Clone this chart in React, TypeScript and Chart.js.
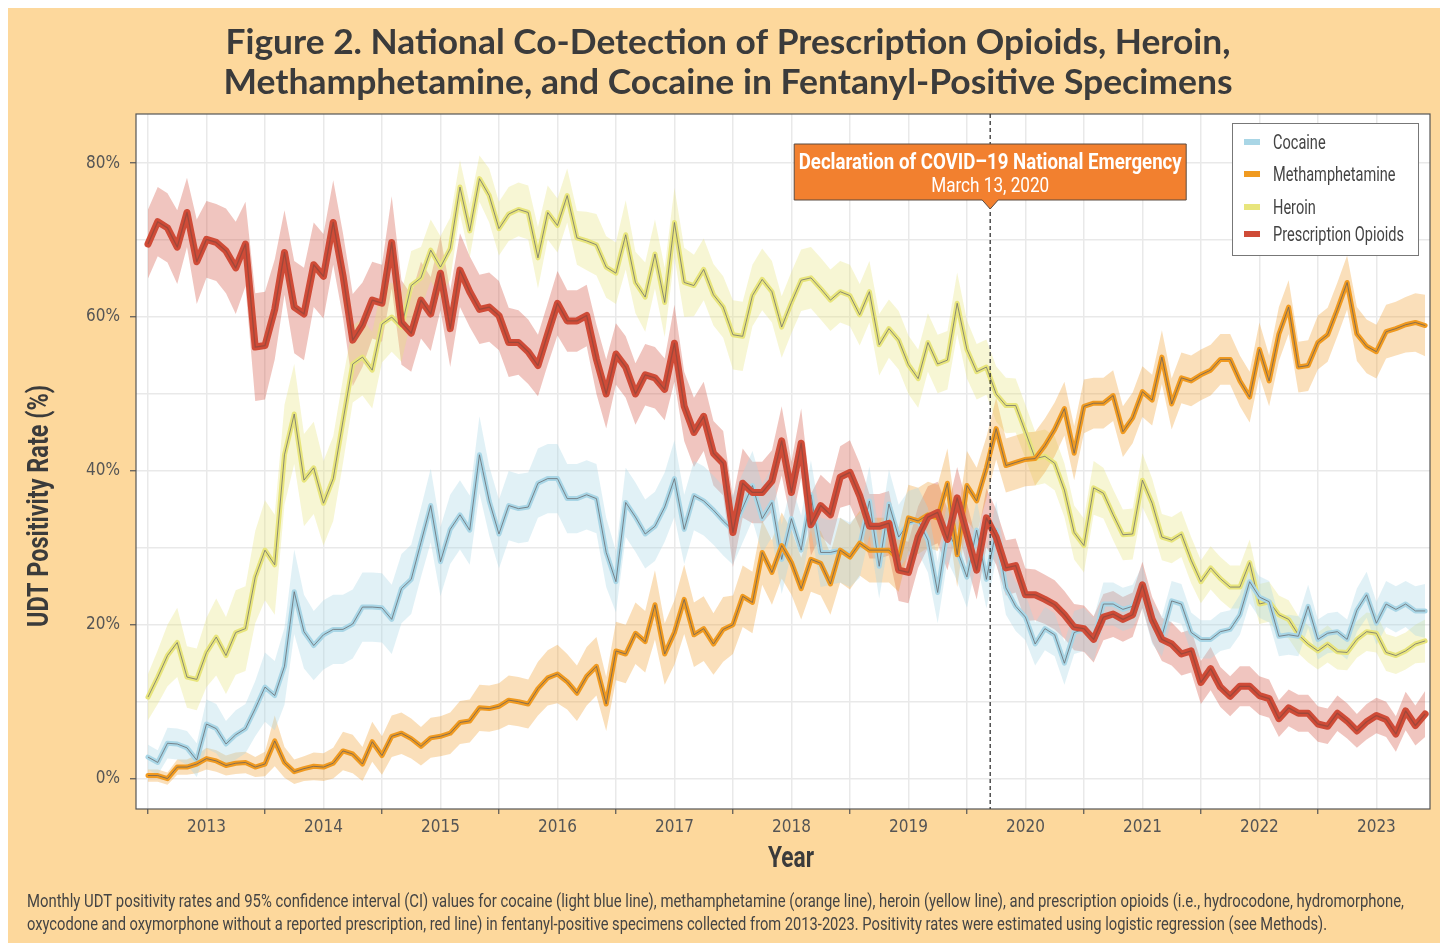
import React, { useEffect, useRef } from "react";
import { Chart, registerables } from "chart.js";

Chart.register(...registerables);

// ---------- data (monthly, Jan 2013 .. Dec 2023) ----------
const YEAR_LABELS = ["2013", "2014", "2015", "2016", "2017", "2018", "2019", "2020", "2021", "2022", "2023"];
const Y_TICK_VALUES = [0, 10, 20, 30, 40, 50, 60, 70, 80];
const EMERGENCY_MONTH_INDEX = 86; // March 2020 (0 = Jan 2013)
const EMERGENCY_DAY = 13;

const COCAINE = [
  2.8, 2.1, 4.6, 4.5, 4.0, 2.4, 7.1, 6.5, 4.5, 5.7, 6.5, 9.1,
  11.9, 10.8, 14.6, 24.3, 19.1, 17.3, 18.7, 19.4, 19.4, 20.1, 22.3, 22.3,
  22.2, 20.7, 24.7, 25.9, 30.7, 35.5, 28.2, 32.4, 34.3, 32.3, 42.1, 36.1,
  31.8, 35.5, 35.1, 35.3, 38.4, 39.0, 39.0, 36.4, 36.4, 36.9, 36.4, 29.4,
  25.6, 35.9, 34.0, 31.8, 32.8, 35.3, 39.0, 32.4, 36.8, 36.1, 34.9, 33.5,
  32.3, 35.2, 38.1, 33.8, 35.9, 28.5, 33.8, 29.7, 36.9, 29.4, 29.4, 29.7,
  29.1, 30.3, 36.1, 27.6, 35.7, 31.4, 33.2, 33.6, 31.0, 24.2, 32.3, 29.7,
  26.2, 32.3, 25.9, 32.3, 24.8, 22.4, 21.0, 17.5, 19.5, 18.7, 15.0, 19.0,
  19.4, 18.1, 22.7, 22.7, 22.0, 22.4, 24.9, 20.1, 18.5, 23.1, 22.7, 19.0,
  18.1, 18.1, 19.1, 19.4, 21.3, 25.6, 23.6, 23.0, 18.5, 18.7, 18.5, 22.4,
  18.1, 18.9, 19.1, 18.1, 21.9, 23.9, 20.2, 22.7, 22.0, 22.7, 21.8, 21.8,
];
const COCAINE_CI = [
  1.6, 1.6, 2.0, 2.0, 2.2, 2.2, 3.2, 3.2, 3.0, 3.2, 3.2, 3.6,
  4.5, 4.5, 5.0, 5.5, 4.8, 4.5, 4.5, 4.5, 4.5, 4.5, 4.5, 4.5,
  4.5, 4.5, 4.5, 4.5, 4.5, 4.8, 4.5, 4.5, 4.5, 4.5, 5.0, 4.5,
  4.5, 4.5, 4.5, 4.5, 4.5, 4.5, 4.5, 4.5, 4.5, 4.5, 4.5, 4.5,
  4.0, 4.5, 4.5, 4.5, 4.5, 4.5, 5.0, 4.5, 4.5, 4.5, 4.5, 4.5,
  4.5, 4.5, 4.5, 4.5, 4.5, 4.5, 4.5, 4.5, 4.5, 4.5, 4.2, 4.2,
  4.2, 4.2, 4.5, 4.2, 4.5, 4.2, 4.2, 4.2, 4.2, 4.0, 4.0, 4.0,
  4.0, 4.0, 3.8, 3.8, 3.5, 3.2, 3.0, 2.8, 2.8, 2.8, 2.8, 2.8,
  2.8, 2.8, 2.8, 2.8, 2.8, 2.8, 2.8, 2.6, 2.6, 2.6, 2.6, 2.6,
  2.5, 2.5, 2.5, 2.5, 2.6, 2.8, 2.7, 2.7, 2.6, 2.6, 2.6, 2.8,
  2.6, 2.6, 2.6, 2.6, 2.8, 3.0, 2.8, 3.0, 3.0, 3.0, 3.2, 3.5,
];

const METH = [
  0.4, 0.4, 0.0, 1.5, 1.5, 1.9, 2.6, 2.3, 1.7, 2.0, 2.1, 1.5,
  1.9, 4.9, 2.1, 0.9, 1.3, 1.6, 1.5, 2.0, 3.6, 3.2, 1.9, 4.8,
  3.0, 5.5, 5.9, 5.2, 4.2, 5.3, 5.5, 5.9, 7.3, 7.5, 9.2, 9.1,
  9.4, 10.2, 10.0, 9.7, 11.7, 13.1, 13.6, 12.6, 11.1, 13.3, 14.6, 9.7,
  16.6, 16.2, 18.9, 17.8, 22.6, 16.2, 19.0, 23.3, 18.7, 19.5, 17.5, 19.4,
  20.0, 23.7, 22.9, 29.4, 26.8, 30.3, 28.1, 24.7, 28.5, 28.0, 25.3, 29.7,
  28.8, 30.6, 29.7, 29.7, 29.7, 28.5, 33.9, 33.5, 34.3, 33.9, 38.4, 29.1,
  38.1, 36.1, 40.4, 45.5, 40.7, 41.1, 41.5, 41.6, 43.3, 45.4, 48.1, 42.3,
  48.4, 48.8, 48.8, 49.8, 45.1, 46.9, 50.3, 49.2, 54.8, 48.7, 52.1, 51.7,
  52.5, 53.1, 54.5, 54.5, 51.7, 49.6, 55.8, 51.7, 57.8, 61.3, 53.5, 53.7,
  56.7, 57.7, 61.0, 64.5, 57.8, 56.2, 55.5, 58.1, 58.5, 59.0, 59.3, 58.9,
];
const METH_CI = [
  0.8, 0.8, 0.8, 1.0, 1.0, 1.2, 1.4, 1.4, 1.3, 1.4, 1.4, 1.3,
  1.6, 3.3, 2.0, 1.6, 1.6, 1.8, 1.8, 2.0, 2.5, 2.5, 2.2, 2.6,
  2.5, 2.7, 2.7, 2.6, 2.5, 2.6, 2.6, 2.7, 2.8, 2.8, 3.0, 3.0,
  3.0, 3.2, 3.2, 3.2, 3.5, 3.6, 3.8, 3.6, 3.6, 3.8, 3.8, 3.5,
  3.8, 3.8, 4.0, 4.0, 4.5, 4.0, 4.2, 4.5, 4.2, 4.2, 4.0, 4.2,
  3.8, 4.0, 4.0, 4.2, 4.2, 4.3, 4.2, 4.0, 4.2, 4.2, 4.0, 4.2,
  4.2, 4.2, 4.2, 4.2, 4.2, 4.2, 4.3, 4.3, 4.3, 4.3, 4.5, 4.2,
  4.5, 4.3, 4.0, 4.0, 3.5, 3.5, 3.5, 3.5, 3.5, 3.5, 3.5, 3.5,
  3.5, 3.3, 3.3, 3.3, 3.3, 3.3, 3.3, 3.3, 3.5, 3.3, 3.3, 3.3,
  3.3, 3.3, 3.3, 3.3, 3.3, 3.3, 3.5, 3.3, 3.5, 3.5, 3.3, 3.3,
  3.5, 3.5, 3.5, 3.5, 3.5, 3.5, 3.5, 3.5, 3.5, 3.6, 3.8, 4.0,
];

const HEROIN = [
  10.6, 13.2, 16.0, 17.7, 13.2, 12.9, 16.4, 18.4, 16.0, 19.0, 19.5, 26.2,
  29.7, 27.8, 42.1, 47.4, 38.8, 40.4, 35.8, 39.0, 46.5, 53.9, 54.8, 53.1,
  59.1, 60.0, 58.7, 64.1, 65.1, 68.7, 66.5, 68.9, 76.9, 71.2, 78.0, 75.8,
  71.5, 73.4, 74.0, 73.6, 67.7, 73.6, 71.9, 75.8, 70.3, 69.9, 69.4, 66.5,
  65.7, 70.7, 64.5, 62.6, 68.2, 61.9, 72.3, 64.5, 64.1, 66.2, 62.9, 61.3,
  57.7, 57.5, 62.8, 64.9, 63.3, 58.7, 61.9, 64.8, 65.1, 63.7, 62.2, 63.3,
  62.8, 60.3, 63.3, 56.4, 58.5, 57.0, 53.8, 52.0, 56.7, 53.9, 54.4, 61.8,
  55.8, 52.9, 53.5, 50.0, 48.5, 48.5, 45.1, 41.6, 41.9, 41.0, 37.5, 32.0,
  30.3, 37.8, 37.1, 34.3, 31.7, 31.8, 38.8, 35.8, 31.4, 31.0, 31.8, 28.4,
  25.6, 27.4, 26.0, 24.9, 24.9, 28.1, 22.7, 23.0, 21.3, 20.7, 18.7, 17.5,
  16.6, 17.5, 16.5, 16.4, 18.1, 19.1, 18.9, 16.4, 16.0, 16.6, 17.5, 17.9,
];
const HEROIN_CI = [
  3.0, 3.5, 4.0, 4.5, 4.0, 4.0, 4.5, 5.0, 5.0, 5.5, 5.5, 6.0,
  6.5, 6.5, 6.5, 6.5, 6.0, 6.0, 5.5, 5.5, 5.5, 5.0, 5.0, 5.0,
  5.0, 4.5, 4.5, 4.5, 4.0, 4.0, 4.0, 4.0, 3.5, 3.5, 3.0, 3.5,
  3.5, 3.5, 3.5, 3.5, 4.0, 3.5, 3.5, 3.5, 3.5, 3.8, 4.0, 4.0,
  4.0, 4.5, 4.0, 4.5, 4.5, 4.5, 4.5, 4.5, 4.0, 4.0, 4.0, 4.0,
  4.5, 4.5, 4.0, 4.0, 4.0, 4.0, 4.0, 4.0, 4.0, 4.0, 4.0, 4.0,
  4.0, 4.0, 4.0, 4.0, 3.8, 3.8, 3.8, 3.8, 3.8, 3.8, 3.8, 4.0,
  3.8, 3.6, 3.6, 3.6, 3.6, 3.5, 3.5, 3.5, 3.5, 3.5, 3.5, 3.5,
  3.5, 3.5, 3.3, 3.3, 3.3, 3.3, 3.5, 3.2, 3.0, 3.0, 3.0, 3.0,
  2.8, 2.8, 2.8, 2.8, 2.8, 3.0, 2.6, 2.6, 2.5, 2.5, 2.4, 2.4,
  2.4, 2.4, 2.3, 2.3, 2.4, 2.5, 2.5, 2.4, 2.4, 2.4, 2.5, 2.8,
];

const OPIOIDS = [
  69.5, 72.4, 71.6, 69.1, 73.6, 67.2, 70.1, 69.7, 68.6, 66.4, 69.5, 56.1,
  56.3, 61.0, 68.4, 61.3, 60.4, 66.8, 65.3, 72.3, 65.4, 57.0, 59.0, 62.2,
  61.8, 69.7, 59.3, 57.9, 62.2, 60.4, 65.7, 58.5, 66.1, 63.3, 61.0, 61.3,
  60.2, 56.7, 56.7, 55.5, 53.7, 57.8, 61.8, 59.5, 59.5, 60.2, 54.5, 50.0,
  55.2, 53.5, 50.0, 52.5, 52.1, 50.6, 56.6, 48.4, 45.0, 47.1, 42.3, 41.0,
  32.0, 38.4, 37.2, 37.2, 38.7, 43.9, 37.2, 43.6, 33.0, 35.5, 34.3, 39.2,
  39.8, 36.8, 32.8, 32.8, 33.2, 27.1, 26.8, 31.4, 34.0, 34.6, 31.1, 36.5,
  31.8, 27.1, 33.9, 31.4, 27.4, 27.7, 23.9, 23.9, 23.3, 22.6, 21.3, 19.7,
  19.5, 18.1, 21.0, 21.4, 20.7, 21.3, 25.2, 20.7, 18.1, 17.5, 16.2, 16.6,
  12.5, 14.3, 11.9, 10.7, 12.0, 12.0, 10.8, 10.4, 7.8, 9.2, 8.5, 8.5,
  7.1, 6.8, 8.5, 7.5, 6.2, 7.4, 8.2, 7.7, 5.8, 8.8, 6.9, 8.4,
];
const OPIOIDS_CI = [
  4.5, 4.5, 4.5, 4.8, 4.5, 5.5, 5.0, 5.0, 5.5, 6.0, 5.5, 7.0,
  7.0, 6.5, 5.5, 6.0, 6.0, 5.5, 5.5, 5.5, 5.5, 6.0, 5.5, 5.0,
  5.0, 6.0, 5.5, 5.0, 5.0, 4.8, 4.8, 5.0, 4.8, 4.6, 4.5, 4.5,
  4.5, 4.5, 4.2, 4.2, 4.0, 4.0, 4.2, 4.0, 4.0, 4.0, 4.5, 4.5,
  4.0, 4.0, 4.0, 4.0, 4.0, 4.0, 5.0, 4.5, 4.5, 4.5, 4.2, 4.2,
  4.5, 4.5, 4.0, 4.0, 4.0, 4.5, 4.0, 4.5, 4.0, 4.0, 4.0, 4.0,
  4.2, 4.2, 4.2, 4.2, 4.2, 4.0, 4.0, 4.0, 4.0, 4.0, 4.0, 4.0,
  4.0, 3.8, 3.8, 3.6, 3.6, 3.5, 3.4, 3.3, 3.2, 3.2, 3.1, 3.0,
  3.0, 3.0, 3.0, 3.0, 2.9, 2.9, 3.0, 2.9, 2.8, 2.8, 2.8, 2.8,
  2.8, 2.8, 2.6, 2.6, 2.6, 2.6, 2.5, 2.5, 2.4, 2.4, 2.4, 2.4,
  2.3, 2.3, 2.3, 2.3, 2.2, 2.3, 2.3, 2.3, 2.3, 2.5, 2.6, 3.0,
];

// ---------- text ----------
const TITLE_LINES = [
  "Figure 2. National Co-Detection of Prescription Opioids, Heroin,",
  "Methamphetamine, and Cocaine in Fentanyl-Positive Specimens",
];
const CAPTION_LINES = [
  "Monthly UDT positivity rates and 95% confidence interval (CI) values for cocaine (light blue line), methamphetamine (orange line), heroin (yellow line), and prescription opioids (i.e., hydrocodone, hydromorphone,",
  "oxycodone and oxymorphone without a reported prescription, red line) in fentanyl-positive specimens collected from 2013-2023. Positivity rates were estimated using logistic regression (see Methods).",
];
const Y_TITLE = "UDT Positivity Rate (%)";
const X_TITLE = "Year";
const NOTE_LINES = ["Declaration of COVID\u201319 National Emergency", "March 13, 2020"];

// ---------- styles ----------
const BG = "#fdd89c";
const NARROW = "'DejaVu Sans Condensed', 'Liberation Sans Narrow', Roboto, sans-serif";
const HUMANIST = "Roboto, 'Noto Sans', sans-serif";
const TITLE_FONT = "Lato, 'Open Sans', sans-serif";
const TEXT = "#444";

type Series = {
  name: string;
  values: number[];
  ci: number[];
  color: string;
  band: string;
  width: number;
  center: string;
  centerWidth: number;
};

const SERIES: Series[] = [
  { name: "Cocaine", values: COCAINE, ci: COCAINE_CI, color: "#a9d6e6", band: "rgba(169,214,230,0.35)", width: 5, center: "rgba(105,110,115,0.8)", centerWidth: 1 },
  { name: "Methamphetamine", values: METH, ci: METH_CI, color: "#f09a20", band: "rgba(240,154,40,0.32)", width: 5, center: "rgba(110,100,90,0.8)", centerWidth: 1 },
  { name: "Heroin", values: HEROIN, ci: HEROIN_CI, color: "#e8e57c", band: "rgba(232,229,124,0.33)", width: 5, center: "rgba(115,115,110,0.8)", centerWidth: 1 },
  { name: "Prescription Opioids", values: OPIOIDS, ci: OPIOIDS_CI, color: "#cf4b37", band: "rgba(207,75,55,0.32)", width: 7, center: "rgba(120,70,60,0.55)", centerWidth: 1.3 },
];
// bottom -> top drawing order of the lines
const LINE_STACK = ["Heroin", "Cocaine", "Methamphetamine", "Prescription Opioids"];

const toPoints = (vals: number[]) => vals.map((y, x) => ({ x, y }));

function buildDatasets() {
  const ds: any[] = [];
  SERIES.forEach((s, k) => {
    ds.push({
      label: s.name + " upper",
      data: toPoints(s.values.map((v, i) => v + s.ci[i])),
      borderWidth: 0, pointRadius: 0, fill: false, order: 100 + k,
    });
    ds.push({
      label: s.name + " lower",
      data: toPoints(s.values.map((v, i) => Math.max(v - s.ci[i], -3))),
      borderWidth: 0, pointRadius: 0, fill: "-1", backgroundColor: s.band, order: 100 + k,
    });
  });
  LINE_STACK.forEach((name, level) => {
    const s = SERIES.find((q) => q.name === name)!;
    const base = 60 - level * 10;
    ds.push({
      label: s.name,
      data: toPoints(s.values),
      borderColor: s.color, borderWidth: s.width, pointRadius: 0, fill: false,
      borderJoinStyle: "round", borderCapStyle: "round", order: base,
    });
    ds.push({
      label: s.name + " center",
      data: toPoints(s.values),
      borderColor: s.center, borderWidth: s.centerWidth, pointRadius: 0, fill: false,
      borderJoinStyle: "round", order: base - 1,
    });
  });
  return ds;
}

// draw text squeezed horizontally to a given width (mimics a condensed face)
function fitText(ctx: CanvasRenderingContext2D, text: string, x: number, y: number, width: number, align: CanvasTextAlign, scaleOverride?: number) {
  const w = ctx.measureText(text).width;
  const s = scaleOverride ?? width / w;
  ctx.save();
  ctx.translate(x, y);
  ctx.scale(s, 1);
  ctx.textAlign = align;
  ctx.fillText(text, 0, 0);
  ctx.restore();
  return s;
}

const figurePlugin = {
  id: "figureText",
  beforeDraw(chart: any) {
    const { ctx, chartArea: a } = chart;
    ctx.save();
    ctx.fillStyle = "#ffffff";
    ctx.fillRect(a.left, a.top, a.right - a.left, a.bottom - a.top);
    ctx.restore();
  },
  afterDatasetsDraw(chart: any) {
    const { ctx, chartArea: a } = chart;
    const xs = chart.scales.x;
    ctx.save();
    // plot frame
    ctx.strokeStyle = "#555";
    ctx.lineWidth = 1.2;
    ctx.strokeRect(a.left, a.top, a.right - a.left, a.bottom - a.top);

    // emergency dashed line
    const ex = xs.getPixelForValue(EMERGENCY_MONTH_INDEX + (EMERGENCY_DAY - 1) / 31);
    ctx.beginPath();
    ctx.setLineDash([4, 3]);
    ctx.strokeStyle = "#333";
    ctx.lineWidth = 1.3;
    ctx.moveTo(ex, a.top);
    ctx.lineTo(ex, a.bottom);
    ctx.stroke();
    ctx.setLineDash([]);

    // annotation box
    const bw = 392, bTop = 136, bBot = 192;
    const bl = ex - bw / 2;
    ctx.fillStyle = "#f2802f";
    ctx.beginPath();
    ctx.moveTo(bl, bTop);
    ctx.lineTo(bl + bw, bTop);
    ctx.lineTo(bl + bw, bBot);
    ctx.lineTo(ex + 8, bBot);
    ctx.lineTo(ex, bBot + 9);
    ctx.lineTo(ex - 8, bBot);
    ctx.lineTo(bl, bBot);
    ctx.closePath();
    ctx.fill();
    ctx.strokeStyle = "#5a4a40";
    ctx.lineWidth = 1;
    ctx.stroke();
    ctx.fillStyle = "#ffffff";
    ctx.textBaseline = "alphabetic";
    ctx.font = `bold 22px ${HUMANIST}`;
    fitText(ctx, NOTE_LINES[0], ex, 161, 383, "center");
    ctx.font = `21px ${HUMANIST}`;
    fitText(ctx, NOTE_LINES[1], ex, 184, 118, "center");

    // legend
    ctx.fillStyle = "#ffffff";
    ctx.fillRect(1224, 115, 186, 132);
    ctx.strokeStyle = "#777";
    ctx.lineWidth = 1;
    ctx.strokeRect(1224.5, 115.5, 186, 132);
    const rowsY = [141, 173, 206, 233];
    ctx.font = `19.5px ${HUMANIST}`;
    const legendScale = 131 / ctx.measureText(SERIES[3].name).width;
    SERIES.forEach((s, i) => {
      ctx.fillStyle = s.color;
      ctx.fillRect(1236, rowsY[i] - 10, 16, 6);
      ctx.fillStyle = TEXT;
      fitText(ctx, s.name, 1265, rowsY[i], 0, "left", legendScale);
    });
    ctx.restore();
  },
  afterDraw(chart: any) {
    const { ctx } = chart;
    ctx.save();
    ctx.fillStyle = "#3b3b3b";
    ctx.textBaseline = "alphabetic";
    ctx.font = `bold 34px ${TITLE_FONT}`;
    fitText(ctx, TITLE_LINES[0], 720, 46, 1005, "center");
    fitText(ctx, TITLE_LINES[1], 720, 86, 1009, "center");

    // axis titles
    ctx.fillStyle = "#3b3b3b";
    ctx.font = `bold 29px ${HUMANIST}`;
    ctx.textBaseline = "middle";
    fitText(ctx, X_TITLE, 783, 852, 46, "center");
    ctx.save();
    ctx.translate(33, 498);
    ctx.rotate(-Math.PI / 2);
    fitText(ctx, Y_TITLE, 0, 0, 242, "center");
    ctx.restore();

    // caption
    ctx.fillStyle = TEXT;
    ctx.textBaseline = "alphabetic";
    ctx.font = `18px ${HUMANIST}`;
    fitText(ctx, CAPTION_LINES[0], 19, 899, 1377, "left");
    fitText(ctx, CAPTION_LINES[1], 19, 922, 1300, "left");
    ctx.restore();
  },
};

export default function App() {
  const ref = useRef<HTMLCanvasElement>(null);
  useEffect(() => {
    const canvas = ref.current!;
    const chart = new Chart(canvas, {
      type: "line",
      data: { datasets: buildDatasets() },
      options: {
        animation: false,
        responsive: false,
        devicePixelRatio: 1,
        layout: { padding: { left: 28, right: 18, top: 106, bottom: 94 }, autoPadding: false },
        plugins: { legend: { display: false }, title: { display: false }, tooltip: { enabled: false } },
        elements: { line: { tension: 0 } },
        scales: {
          x: {
            type: "linear",
            min: -1.23,
            max: 131.5,
            afterBuildTicks: (scale: any) => {
              const t: any[] = [];
              for (let m = 0; m <= 126; m += 6) t.push({ value: m });
              scale.ticks = t;
            },
            afterFit: (scale: any) => { scale.height = 40; },
            grid: {
              color: "#e9e9e9",
              lineWidth: 1.5,
              tickLength: 5,
              tickColor: (c: any) => (c.tick && c.tick.value % 12 === 0 ? "#555" : "rgba(0,0,0,0)"),
              tickWidth: 1.2,
            },
            border: { display: false },
            ticks: {
              autoSkip: false,
              maxRotation: 0,
              padding: 3,
              color: "#555",
              font: { family: NARROW, size: 17 },
              callback: (v: any) => (Number(v) % 12 === 6 ? YEAR_LABELS[(Number(v) - 6) / 12] : ""),
            },
          },
          y: {
            type: "linear",
            min: -3.95,
            max: 86.4,
            afterBuildTicks: (scale: any) => { scale.ticks = Y_TICK_VALUES.map((v) => ({ value: v })); },
            afterFit: (scale: any) => { scale.width = 100; },
            grid: {
              color: "#e9e9e9",
              lineWidth: 1.5,
              tickLength: 6,
              tickColor: (c: any) => (c.tick && c.tick.value % 20 === 0 ? "#555" : "rgba(0,0,0,0)"),
              tickWidth: 1.2,
            },
            border: { display: false },
            ticks: {
              autoSkip: false,
              padding: 10,
              color: "#555",
              font: { family: NARROW, size: 17 },
              callback: (v: any) => (Number(v) % 20 === 0 ? `${v}%` : ""),
            },
          },
        },
      } as any,
      plugins: [figurePlugin],
    });
    return () => chart.destroy();
  }, []);
  return (
    <div style={{ width: 1440, height: 935, background: BG, position: "relative" }}>
      <canvas ref={ref} width={1440} height={935} style={{ display: "block", width: 1440, height: 935 }} />
    </div>
  );
}
